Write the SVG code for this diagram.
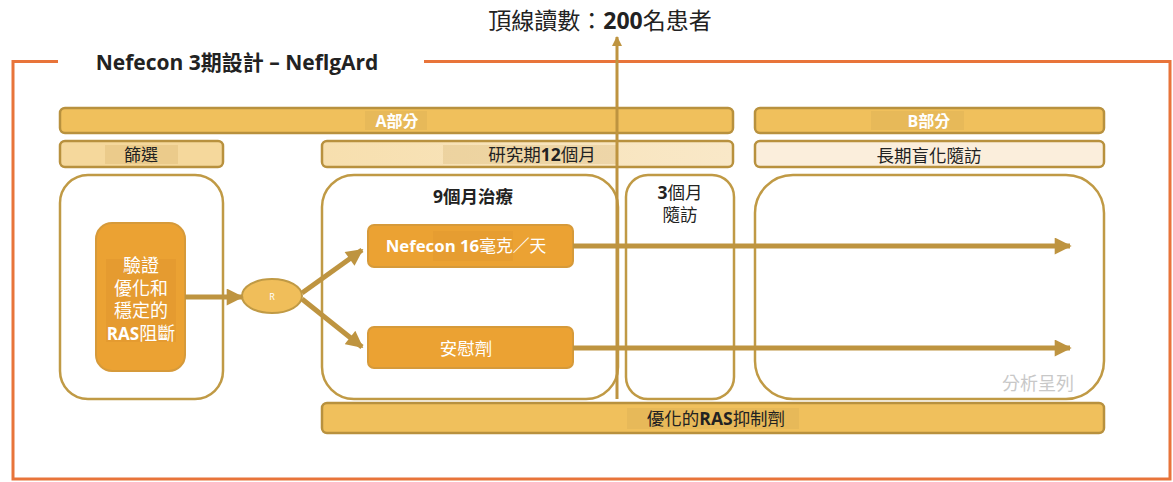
<svg xmlns="http://www.w3.org/2000/svg" width="1173" height="482" viewBox="0 0 1173 482">
<style>
.t{font-family:"Open Sans","Noto Sans CJK TC","Noto Sans",sans-serif;text-anchor:middle}
.w{fill:#ffffff}
.d{fill:#222222}
.bar{fill:#F0C05C;stroke:#B8913E;stroke-width:2.5}
.lbar{stroke:#B8913E;stroke-width:2.5}
.box{fill:#ffffff;stroke:#C09A45;stroke-width:2.5}
.obox{fill:#EBA233;stroke:#D69A3A;stroke-width:2}
.hl{fill:#C8A050;opacity:0.22}
.conn{stroke:#BE9440;fill:none}
</style>
<defs>
<marker id="ah" viewBox="0 0 10 10" refX="9" refY="5" markerWidth="3.6" markerHeight="3.4" orient="auto" markerUnits="strokeWidth">
<path d="M0,0 L10,5 L0,10 z" fill="#BE9440"/>
</marker>
<marker id="ahs" viewBox="0 0 10 10" refX="9" refY="5" markerWidth="3.6" markerHeight="3.4" orient="auto" markerUnits="strokeWidth">
<path d="M0,0 L10,5 L0,10 z" fill="#BE9440"/>
</marker>
<linearGradient id="g1" x1="0" x2="1" y1="0" y2="0">
<stop offset="0" stop-color="#F7DFAE"/><stop offset="1" stop-color="#F9E8C8"/>
</linearGradient>
</defs>

<g id="frame">
<path d="M58,61.5 H13 V479 H1170 V61.5 H424" fill="none" stroke="#E8743A" stroke-width="3"/>
</g>

<g id="title">
<text class="t d" x="237" y="70" font-size="21" font-weight="bold">Nefecon 3期設計 – NeflgArd</text>
</g>

<g id="topline">
<text class="t d" x="600" y="29" font-size="23"><tspan>頂線讀數：</tspan><tspan font-weight="bold">200</tspan><tspan>名患者</tspan></text>
</g>

<g id="partA">
<rect class="bar" x="60" y="108" width="673" height="25" rx="5"/>
<rect class="hl" x="365" y="111" width="62" height="19"/>
<text class="t w" x="397" y="127" font-size="16" font-weight="bold">A部分</text>
</g>
<g id="partB">
<rect class="bar" x="755" y="108" width="349" height="25" rx="5"/>
<rect class="hl" x="871" y="111" width="93" height="19"/>
<text class="t w" x="929" y="127" font-size="16" font-weight="bold">B部分</text>
</g>

<g id="screening-bar">
<rect class="lbar" x="60" y="141" width="163" height="26" rx="5" fill="#F5D89C"/>
<rect class="hl" x="105" y="145" width="73" height="19"/>
<text class="t d" x="141" y="161" font-size="17">篩選</text>
</g>
<g id="study-bar">
<rect class="lbar" x="322" y="141" width="411" height="26" rx="5" fill="url(#g1)"/>
<rect class="hl" x="443" y="145" width="175" height="19" opacity="0.12"/>
<text class="t d" x="542" y="161" font-size="17.5">研究期<tspan font-weight="bold">12</tspan>個月</text>
</g>
<g id="followup-bar">
<rect class="lbar" x="755" y="141" width="349" height="26" rx="5" fill="#FBEEDC"/>
<text class="t d" x="929" y="162" font-size="17.5">長期盲化隨訪</text>
</g>

<g id="screening-box">
<rect class="box" x="60" y="175" width="163" height="224" rx="28"/>
</g>
<g id="ras-box">
<rect class="obox" x="96" y="223" width="89" height="148" rx="16"/>
<rect fill="#D98E2A" opacity="0.35" x="106" y="259" width="70" height="83"/>
<text class="t w" x="141" y="272" font-size="18">驗證</text>
<text class="t w" x="141" y="295" font-size="18">優化和</text>
<text class="t w" x="141" y="317" font-size="18">穩定的</text>
<text class="t w" x="141" y="340" font-size="18"><tspan font-weight="bold" font-size="17">RAS</tspan>阻斷</text>
</g>

<g id="treatment-box">
<rect class="box" x="322" y="175" width="296" height="224" rx="32"/>
<text class="t d" x="473" y="203" font-size="17.5" font-weight="bold">9個月治療</text>
</g>
<g id="followup3-box">
<rect class="box" x="626" y="175" width="108" height="224" rx="22"/>
<text class="t d" x="680" y="199" font-size="17.5"><tspan font-weight="bold">3</tspan>個月</text>
<text class="t d" x="680" y="221" font-size="17.5">隨訪</text>
</g>
<g id="longterm-box">
<rect class="box" x="755" y="175" width="349" height="224" rx="38"/>
<text class="t" x="1038" y="390" font-size="18" fill="#C8C8C8">分析呈列</text>
</g>

<g id="randomize">
<ellipse cx="272" cy="296" rx="30" ry="17" fill="#F0BE5A" stroke="#C09A45" stroke-width="2"/>
<text class="t w" x="272" y="300" font-size="9">R</text>
</g>

<g id="nefecon-box">
<rect class="obox" x="368" y="225" width="205" height="42" rx="6"/>
<rect fill="#D98E2A" opacity="0.25" x="433" y="231" width="80" height="30"/>
<text class="t w" x="466" y="252" font-size="16.8" font-weight="bold">Nefecon 16<tspan font-weight="normal">毫克／天</tspan></text>
</g>
<g id="placebo-box">
<rect class="obox" x="368" y="327" width="205" height="41" rx="6"/>
<text class="t w" x="466" y="355" font-size="17.5">安慰劑</text>
</g>

<g id="ras-inhibitor-bar">
<rect class="bar" x="322" y="403" width="782" height="30" rx="5"/>
<rect class="hl" x="627" y="408" width="172" height="21" opacity="0.35"/>
<text class="t d" x="716" y="425" font-size="17.5">優化的<tspan font-weight="bold">RAS</tspan>抑制劑</text>
</g>

<g id="connectors">
<line class="conn" x1="185" y1="297" x2="242" y2="297" stroke-width="5" marker-end="url(#ah)"/>
<line class="conn" x1="302" y1="293" x2="362" y2="250" stroke-width="5" marker-end="url(#ah)"/>
<line class="conn" x1="302" y1="299" x2="362" y2="347" stroke-width="5" marker-end="url(#ah)"/>
<line class="conn" x1="573" y1="246" x2="1070" y2="246" stroke-width="5" marker-end="url(#ah)"/>
<line class="conn" x1="573" y1="348" x2="1070" y2="348" stroke-width="5" marker-end="url(#ah)"/>
<line class="conn" x1="617" y1="399" x2="617" y2="37" stroke-width="3" marker-end="url(#ahs)"/>
</g>
</svg>
